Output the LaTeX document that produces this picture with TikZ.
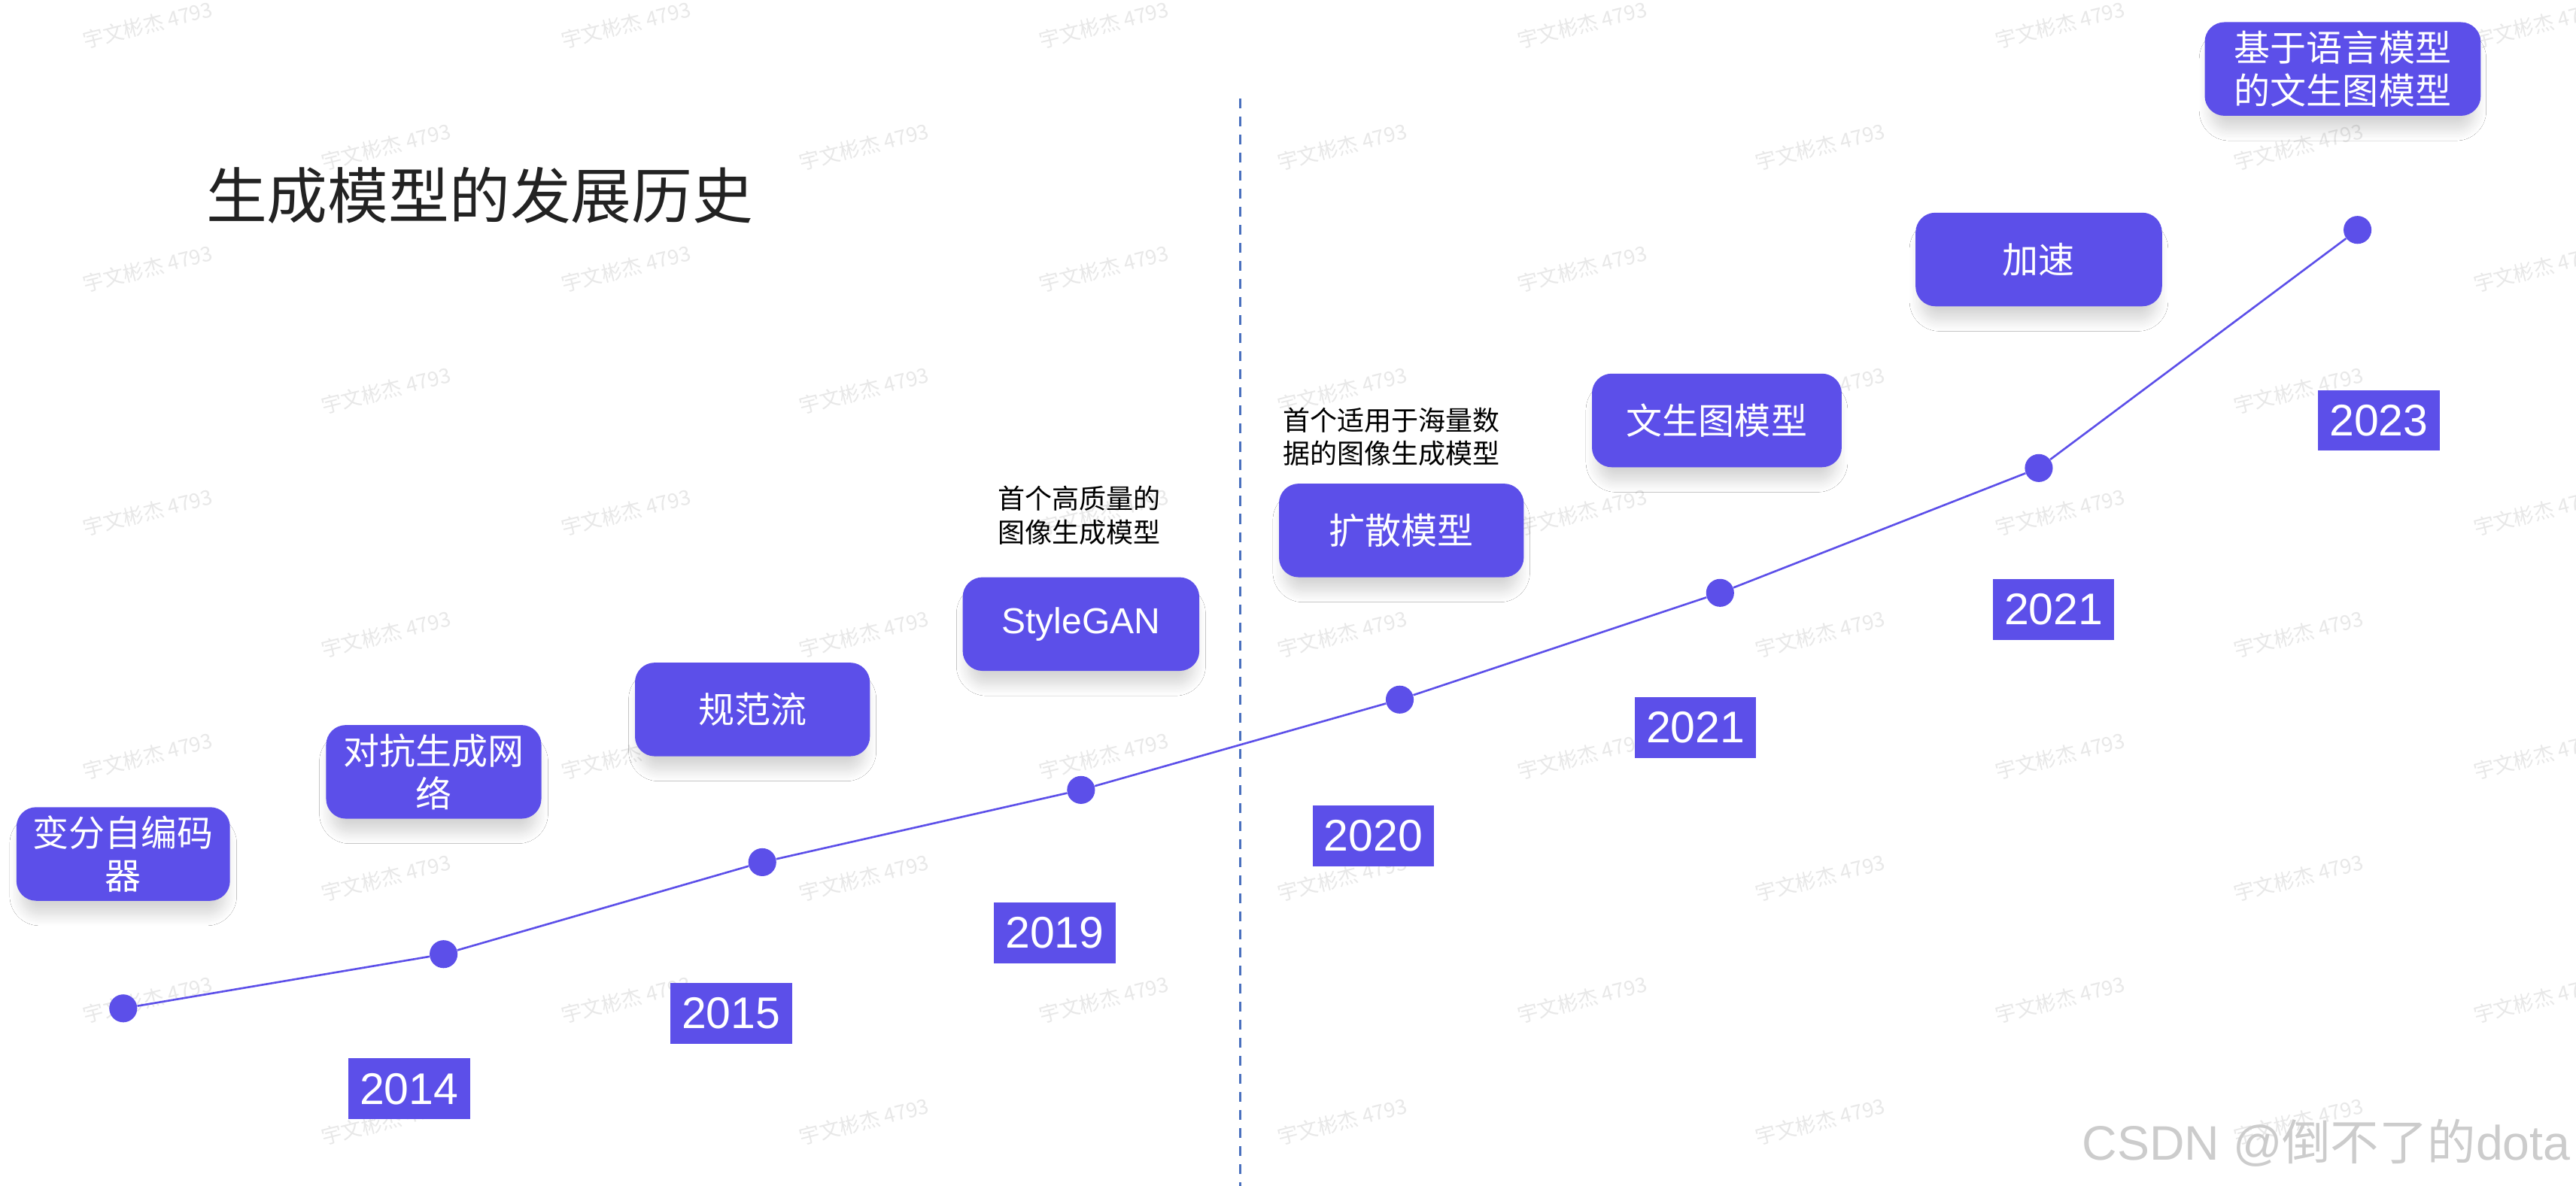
\documentclass[tikz,border=0pt]{standalone}
\usepackage{fontspec}
\setmainfont{Liberation Sans}
\newfontfamily\cjk{Noto Sans CJK SC}
\usepackage{tikz}
\usetikzlibrary{shadows.blur}

\definecolor{genblue}{RGB}{92,79,233}
\definecolor{splitblue}{RGB}{74,112,190}
\definecolor{titlegray}{RGB}{34,34,34}

\tikzset{
  modelbox/.style={rectangle, rounded corners=12pt, fill=genblue, text=white,
    align=center, inner sep=0pt, minimum height=57pt,
    font=\cjk\fontsize{22}{26}\selectfont,
    blur shadow={shadow xshift=0pt, shadow yshift=-10pt, shadow scale=0.96,
                 shadow blur radius=7pt, shadow blur steps=12, shadow opacity=16}},
  yearbox/.style={rectangle, fill=genblue, text=white, inner sep=0pt,
    minimum width=74pt, minimum height=37pt, font=\fontsize{27}{30}\selectfont},
  yeardot/.style={circle, fill=genblue, inner sep=0pt, minimum size=17pt},
  notetext/.style={align=center, text=black, font=\cjk\fontsize{16.5}{20.5}\selectfont},
  wmark/.style={text=black!9, rotate=14, font=\cjk\fontsize{12.5}{14}\selectfont},
}

\begin{document}
\begin{tikzpicture}[x=1pt, y=-1pt]
    \useasboundingbox[fill=white] (0,0) rectangle (1568,722);

    % Watermarks (behind everything)
    \foreach \k in {0,...,9}
        \foreach \j in {0,...,5} {
            \pgfmathsetmacro{\wx}{90+291*\j+145*mod(\k,2)}
            \pgfmathsetmacro{\wy}{15+74.2*\k}
            \node[wmark] (wm-\k-\j) at (\wx,\wy) {宇文彬杰 4793};
        }

    % Title
    \node[text=titlegray, font=\cjk\fontsize{37}{40}\selectfont] (title) at (292,119) {生成模型的发展历史};

    % Split between GAN era and diffusion era
    \coordinate (splittop) at (755,60);
    \coordinate (splitbot) at (755,722);
    \draw[splitblue, line width=1.2pt, dash pattern=on 6pt off 5pt] (splittop) -- (splitbot);

    % Timeline dots
    \foreach \i/\x/\y in {1/75/614, 2/270/581, 3/464/525, 4/658/481, 5/852/426, 6/1047/361, 7/1241/285, 8/1435/140}
        \node[yeardot] (d\i) at (\x,\y) {};
    \draw[genblue, line width=1.2pt] (d1) -- (d2) -- (d3) -- (d4) -- (d5) -- (d6) -- (d7) -- (d8);

    % Models
    \foreach \name/\x/\y/\w/\txt in {vae/75/520/130/{变分自编码\\器}, gan/264/470/131/{对抗生成网\\络},
                                     flow/458/432/143/规范流, diff/853/323/149/扩散模型,
                                     ttoi/1045/256/152/文生图模型, accel/1241/158/150/加速,
                                     llm/1426/42/168/{基于语言模型\\的文生图模型}}
        \node[modelbox, minimum width=\w pt] (\name) at (\x,\y) {\txt};
    \node[modelbox, minimum width=144pt, font=\fontsize{22}{26}\selectfont] (stylegan) at (658,380) {StyleGAN};

    % Years
    \foreach \name/\x/\y/\yr in {y14/249/663/2014, y15/445/617/2015, y19/642/568/2019, y20/836/509/2020,
                                 y21a/1032/443/2021, y21b/1250/371/2021, y23/1448/256/2023}
        \node[yearbox] (\name) at (\x,\y) {\yr};

    % Notes
    \node[notetext] (notestyle) at (657,314) {首个高质量的\\图像生成模型};
    \node[notetext] (notediff) at (847,266) {首个适用于海量数\\据的图像生成模型};

    \node[text=black!20, font=\fontsize{29.5}{32}\selectfont] (csdn) at (1416,696) {CSDN @{\cjk 倒不了的}dota};
\end{tikzpicture}
\end{document}
